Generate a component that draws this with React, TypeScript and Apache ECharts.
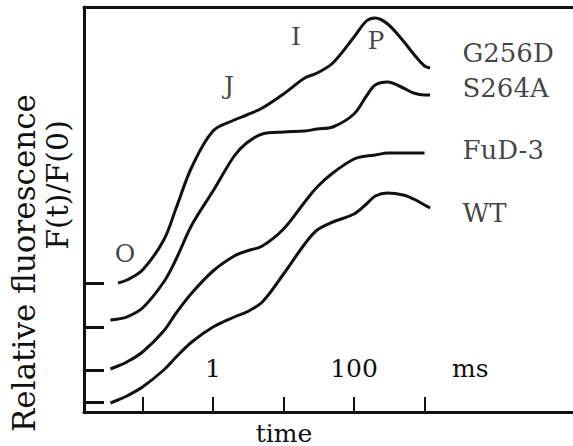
import React, { useEffect, useRef } from "react";
import * as echarts from "echarts";

// time in ms (log scale)
const times = [0.035, 0.045, 0.06, 0.1, 0.2, 0.3, 0.5, 1, 2, 3, 5, 10, 20, 30, 50, 100, 150, 200, 300, 500, 700, 1000, 1200];
// curve heights (offset, arbitrary units)
const g256d = [null, 1.29, 1.32, 1.42, 1.72, 2.04, 2.45, 2.81, 2.92, 2.97, 3.04, 3.18, 3.34, 3.39, 3.49, 3.75, 3.91, 3.94, 3.88, 3.71, 3.58, 3.46, 3.44];
const s264a = [0.92, 0.93, 0.95, 1.04, 1.3, 1.53, 1.87, 2.21, 2.56, 2.69, 2.78, 2.8, 2.81, 2.83, 2.85, 2.98, 3.16, 3.27, 3.3, 3.24, 3.19, 3.17, 3.17];
const fud3 = [0.43, 0.46, 0.5, 0.6, 0.81, 0.99, 1.19, 1.41, 1.56, 1.61, 1.66, 1.83, 2.1, 2.25, 2.39, 2.53, 2.56, 2.57, 2.59, 2.59, 2.59, 2.59, null];
const wt = [0.09, 0.12, 0.16, 0.25, 0.42, 0.55, 0.7, 0.85, 0.95, 1.0, 1.1, 1.38, 1.68, 1.82, 1.9, 1.98, 2.08, 2.16, 2.19, 2.17, 2.13, 2.07, 2.04];

// F(0) baselines marked on the y axis
const baselines = [1.29, 0.85, 0.42, 0.1];

// x tick marks (ms) and tick labels
const xTickTimes = [0.1, 1, 10, 100, 1000];
const xLabelTimes = [1, 100, 4470];
const xLabelTexts = ["1", "100", "ms"];

// phase labels O, J, I, P
const phaseNames = ["O", "J", "I", "P"];
const phaseTimes = [0.0565, 1.69, 15, 205];
const phaseHeights = [1.59, 3.27, 3.76, 3.72];

// curve names
const curveNames = ["G256D", "S264A", "FuD-3", "WT"];
const curveLabelTime = 3400;
const curveLabelHeights = [3.59, 3.24, 2.62, 1.99];

const FONT = "DejaVu Serif";
const INK = "#111";

function toSeriesData(vals: (number | null)[]) {
  const out: [number, number][] = [];
  times.forEach((t, i) => {
    const v = vals[i];
    if (v !== null && v !== undefined) out.push([Math.log10(t), v]);
  });
  return out;
}

function labelFor(v: number) {
  const i = xLabelTimes.findIndex((t) => Math.abs(Math.log10(t) - v) < 1e-4);
  return i >= 0 ? xLabelTexts[i] : "";
}

export default function App() {
  const ref = useRef<HTMLDivElement>(null);
  useEffect(() => {
    if (!ref.current) return;
    const chart = echarts.init(ref.current, undefined, { renderer: "svg" });
    const xMin = -1.83;
    const xMax = 5.106;
    const lineSeries = [g256d, s264a, fud3, wt].map((vals, k) => ({
      type: "line",
      name: curveNames[k],
      data: toSeriesData(vals),
      smooth: 0.35,
      symbol: "none",
      lineStyle: { color: INK, width: 3 },
      silent: true,
    }));
    const option: any = {
      animation: false,
      backgroundColor: "#fff",
      grid: { left: 84, right: 0, top: 7, bottom: 34 },
      xAxis: [
        {
          type: "value",
          min: xMin,
          max: xMax,
          axisLine: { show: true, onZero: false, lineStyle: { color: INK, width: 3 } },
          axisTick: {
            show: true,
            inside: true,
            length: 15,
            lineStyle: { color: INK, width: 2 },
            customValues: xTickTimes.map((t) => Math.log10(t)),
          },
          axisLabel: {
            show: true,
            inside: true,
            margin: 31,
            fontFamily: FONT,
            fontSize: 25,
            color: INK,
            showMinLabel: true,
            showMaxLabel: true,
            hideOverlap: false,
            customValues: xLabelTimes.map((t) => Math.log10(t)),
            formatter: (v: number) => labelFor(v),
          },
          splitLine: { show: false },
        },
        {
          type: "value",
          position: "top",
          min: xMin,
          max: xMax,
          axisLine: { show: true, onZero: false, lineStyle: { color: INK, width: 3 } },
          axisTick: { show: false },
          axisLabel: { show: false },
          splitLine: { show: false },
        },
      ],
      yAxis: {
        type: "value",
        min: 0,
        max: 4.05,
        axisLine: { show: true, onZero: false, lineStyle: { color: INK, width: 3 } },
        axisTick: {
          show: true,
          inside: true,
          length: 20,
          lineStyle: { color: INK, width: 3 },
          customValues: baselines,
        },
        axisLabel: { show: false },
        splitLine: { show: false },
      },
      series: [
        ...lineSeries,
        {
          type: "scatter",
          symbolSize: 1,
          itemStyle: { color: "rgba(0,0,0,0)" },
          silent: true,
          data: phaseNames.map((n, i) => ({ value: [Math.log10(phaseTimes[i]), phaseHeights[i]], name: n })),
          label: {
            show: true,
            position: "inside",
            formatter: (p: any) => p.name,
            fontFamily: FONT,
            fontSize: 25,
            color: INK,
          },
        },
        {
          type: "scatter",
          symbolSize: 1,
          itemStyle: { color: "rgba(0,0,0,0)" },
          silent: true,
          data: curveNames.map((n, i) => ({ value: [Math.log10(curveLabelTime), curveLabelHeights[i]], name: n })),
          label: {
            show: true,
            position: "right",
            distance: 0,
            formatter: (p: any) => p.name,
            fontFamily: FONT,
            fontSize: 26,
            color: INK,
          },
        },
      ],
      graphic: [
        {
          type: "text",
          x: 24,
          y: 263,
          rotation: Math.PI / 2,
          style: {
            text: "Relative fluorescence",
            fontFamily: FONT,
            fontSize: 31,
            fill: INK,
            align: "center",
            verticalAlign: "middle",
          },
        },
        {
          type: "text",
          x: 57,
          y: 185,
          rotation: Math.PI / 2,
          style: {
            text: "F(t)/F(0)",
            fontFamily: FONT,
            fontSize: 30,
            fill: INK,
            align: "center",
            verticalAlign: "middle",
          },
        },
        {
          type: "text",
          x: 284,
          y: 433,
          style: {
            text: "time",
            fontFamily: FONT,
            fontSize: 25,
            fill: INK,
            align: "center",
            verticalAlign: "middle",
          },
        },
      ],
    };
    chart.setOption(option);
    return () => chart.dispose();
  }, []);
  return (
    <div
      ref={ref}
      style={{ position: "fixed", left: 0, top: 0, width: 573, height: 446, background: "#fff" }}
    />
  );
}
